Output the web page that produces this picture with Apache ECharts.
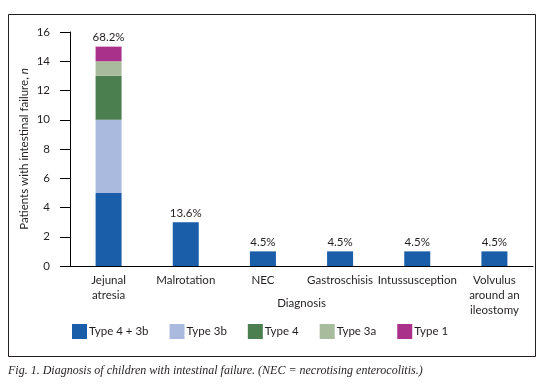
<!DOCTYPE html>
<html>
<head>
<meta charset="utf-8">
<script src="https://cdn.jsdelivr.net/npm/echarts@6/dist/echarts.min.js"></script>
<style>
html,body{margin:0;padding:0;background:#fff;}
#chart{width:545px;height:384px;}
</style>
</head>
<body>
<div id="chart"></div>
<script>
// categories on the x axis
var categories = ['Jejunal\natresia', 'Malrotation', 'NEC', 'Gastroschisis', 'Intussusception', 'Volvulus\naround an\nileostomy'];
// stacked series (patients per type)
var type43b = [5, 3, 1, 1, 1, 1];
var type3b  = [5, 0, 0, 0, 0, 0];
var type4   = [3, 0, 0, 0, 0, 0];
var type3a  = [1, 0, 0, 0, 0, 0];
var type1   = [1, 0, 0, 0, 0, 0];
var yTicks = [0, 2, 4, 6, 8, 10, 12, 14, 16];

var seriesNames = ['Type 4 + 3b', 'Type 3b', 'Type 4', 'Type 3a', 'Type 1'];
var seriesData = [type43b, type3b, type4, type3a, type1];
var colors = ['#1a5da8', '#aab9de', '#4b7f4f', '#a8bb9d', '#a9318a'];

// percentage of all patients above each bar
var totals = categories.map(function(c, i){
	var s = 0;
	for (var k = 0; k < seriesData.length; k++) s += seriesData[k][i];
	return s;
});
var grand = totals.reduce(function(a, b){ return a + b; }, 0);
var pctLabels = totals.map(function(t){ return (t / grand * 100).toFixed(1) + '%'; });

var font = 'Lato';
var txt = '#231f20';

var series = [];
for (var i = 0; i < seriesNames.length; i++) {
	series.push({
		name: seriesNames[i],
		type: 'bar',
		stack: 'all',
		barWidth: 26,
		itemStyle: {color: colors[i]},
		data: seriesData[i]
	});
}
// zero height bar on top of the stack just to carry the % label
series.push({
	name: 'pct',
	type: 'bar',
	stack: 'all',
	barWidth: 26,
	data: categories.map(function(){ return 0; }),
	label: {
		show: true,
		position: 'top',
		distance: 3,
		fontFamily: font,
		fontSize: 11.5,
		color: txt,
		formatter: function(p){ return pctLabels[p.dataIndex]; }
	}
});

var myChart = echarts.init(document.getElementById('chart'));
myChart.setOption({
	animation: false,
	color: colors,
	grid: {left: 70, right: 12, top: 32, bottom: 118},
	legend: {
		data: seriesNames,
		left: 72,
		top: 324,
		padding: 0,
		itemWidth: 15,
		itemHeight: 15,
		itemGap: 21,
		icon: 'rect',
		textStyle: {fontFamily: font, fontSize: 11.5, color: txt, padding: [0, 0, 0, -3]}
	},
	xAxis: {
		type: 'category',
		data: categories,
		name: 'Diagnosis',
		nameLocation: 'middle',
		nameGap: 31,
		nameMoveOverlap: false,
		nameTextStyle: {fontFamily: font, fontSize: 11.5, color: txt},
		axisLine: {lineStyle: {color: '#000', width: 1}},
		axisTick: {show: false},
		axisLabel: {interval: 0, margin: 7, fontFamily: font, fontSize: 11.5, color: txt, lineHeight: 15}
	},
	yAxis: {
		type: 'value',
		min: yTicks[0],
		max: yTicks[yTicks.length - 1],
		interval: 2,
		name: '{a|Patients with intestinal failure, }{b|n}',
		nameLocation: 'middle',
		nameGap: 40,
		nameMoveOverlap: false,
		nameTextStyle: {
			rich: {
				a: {fontFamily: font, fontSize: 11.5, color: txt},
				b: {fontFamily: font, fontSize: 11.5, color: txt, fontStyle: 'italic'}
			}
		},
		splitLine: {show: false},
		axisLine: {show: true, lineStyle: {color: '#000', width: 1}},
		axisTick: {show: true, length: 10, lineStyle: {color: '#000'}},
		axisLabel: {margin: 20, fontFamily: font, fontSize: 11.5, color: txt}
	},
	graphic: [
		{
			type: 'rect',
			shape: {x: 8.5, y: 14.5, width: 527, height: 342},
			style: {fill: 'none', stroke: '#231f20', lineWidth: 1},
			silent: true
		},
		{
			type: 'text',
			left: 8,
			top: 365,
			style: {
				text: 'Fig. 1. Diagnosis of children with intestinal failure. (NEC = necrotising enterocolitis.)',
				font: 'italic 12px "Liberation Serif"',
				fill: txt
			}
		}
	],
	series: series
});
</script>
</body>
</html>
